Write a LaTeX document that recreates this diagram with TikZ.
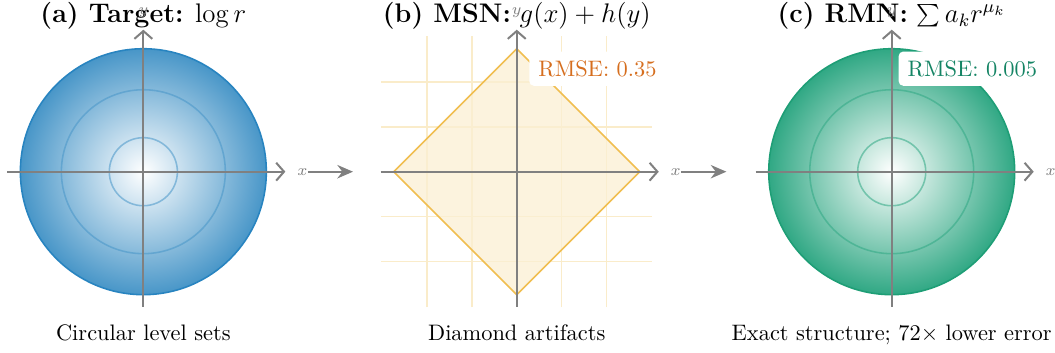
\documentclass[tikz,border=0pt]{standalone}
\usetikzlibrary{arrows.meta}

\definecolor{blueC}{RGB}{72,150,200}
\definecolor{blueE}{RGB}{40,132,192}
\definecolor{greenC}{RGB}{48,168,132}
\definecolor{greenE}{RGB}{30,158,118}
\definecolor{orangeC}{RGB}{240,190,80}
\definecolor{rmseO}{RGB}{214,110,30}
\definecolor{rmseG}{RGB}{20,132,100}

\begin{document}
\begin{tikzpicture}[x=20pt, y=20pt,
      every node/.append style={font=\normalsize},
      axis/.style={black!50, line width=0.9pt, -{Straight Barb[length=3.5pt,width=8pt]}},
      axlabel/.style={font=\scriptsize, black!50, inner sep=0pt},
      ring/.style={line width=0.7pt, draw opacity=0.55},
      title/.style={font=\large, anchor=base},
      caption/.style={anchor=base},
      rmse/.style={fill=white, rounded corners=2pt, inner sep=4pt},
      gridline/.style={orangeC!30, line width=0.6pt},
      link/.style={black!50, line width=0.9pt, -{Stealth[length=7pt,width=6pt]}}]

    \useasboundingbox (-3.2,-4.025) rectangle (20.35,3.833);

    % ---------------- (a) target ----------------
    \shade[inner color=white, outer color=blueC] (0,0) circle (2.745);
    \draw[blueE, line width=0.7pt] (0,0) circle (2.745);
    \foreach \r in {1.83, 0.76}
      \draw[ring, blueC] (0,0) circle (\r);
    \draw[axis] (-3.04,0) -- (3.17,0);
    \draw[axis] (0,-3.01) -- (0,3.17);
    \node[title] (a-title) at (0,3.34) {\textbf{(a) Target:} $\log r$};
    \node[axlabel] (a-xl) at (3.55,0) {$x$};
    \node[axlabel] (a-yl) at (0,3.55) {$y$};
    \node[caption] (a-cap) at (0,-3.76) {Circular level sets};
    \coordinate (a-to) at (4.68,0);
    \draw[link] (a-xl.east) -- (a-to);

    % ---------------- (b) MSN ----------------
    \begin{scope}[shift={(8.335,0)}]
      \foreach \t in {-2,-1,1,2} {
        \draw[gridline] (\t,-3.03) -- (\t,3.03);
        \draw[gridline] (-3.03,\t) -- (3.03,\t);
      }
      \filldraw[fill=orangeC!25, fill opacity=0.75, draw=orangeC, line width=0.7pt]
        (2.745,0) -- (0,2.745) -- (-2.745,0) -- (0,-2.745) -- cycle;
      \draw[axis] (-3.04,0) -- (3.17,0);
      \draw[axis] (0,-3.01) -- (0,3.17);
      \node[title] (b-title) at (0,3.34) {\textbf{(b) MSN:} $g(x)+h(y)$};
      \node[axlabel] (b-xl) at (3.55,0) {$x$};
      \node[axlabel] (b-yl) at (0,3.55) {$y$};
      \node[rmse, text=rmseO] (b-err) at (1.8,2.3) {RMSE: 0.35};
      \node[caption] (b-cap) at (0,-3.76) {Diamond artifacts};
      \coordinate (b-to) at (4.68,0);
      \draw[link] (b-xl.east) -- (b-to);
    \end{scope}

    % ---------------- (c) RMN ----------------
    \begin{scope}[shift={(16.705,0)}]
      \shade[inner color=white, outer color=greenC] (0,0) circle (2.745);
      \draw[greenE, line width=0.7pt] (0,0) circle (2.745);
      \foreach \r in {1.83, 0.76}
        \draw[ring, greenC] (0,0) circle (\r);
      \draw[axis] (-3.04,0) -- (3.17,0);
      \draw[axis] (0,-3.01) -- (0,3.17);
      \node[title] (c-title) at (0,3.34) {\textbf{(c) RMN:} $\sum a_k r^{\mu_k}$};
      \node[axlabel] (c-xl) at (3.55,0) {$x$};
      \node[axlabel] (c-yl) at (0,3.55) {$y$};
      \node[rmse, text=rmseG] (c-err) at (1.8,2.3) {RMSE: 0.005};
      \node[caption] (c-cap) at (0,-3.76) {Exact structure; 72$\times$ lower error};
    \end{scope}
  \end{tikzpicture}
\end{document}
